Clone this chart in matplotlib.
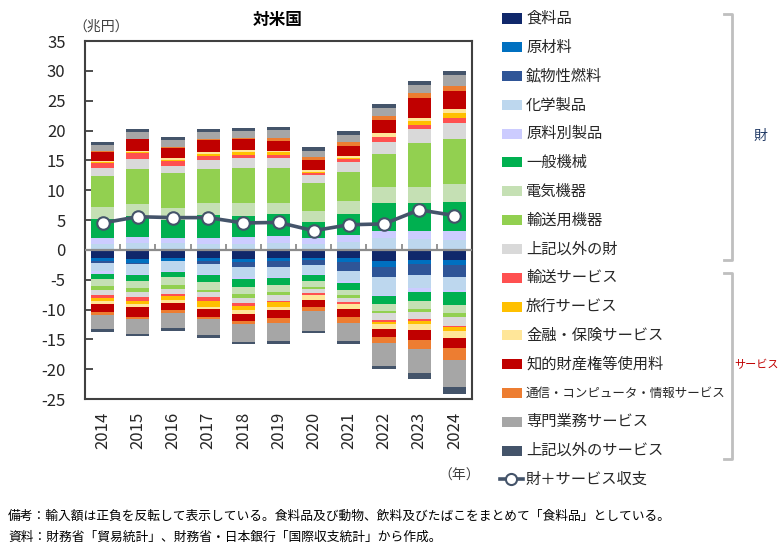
import matplotlib
matplotlib.use('Agg')
import matplotlib.pyplot as plt
import numpy as np
from matplotlib.patches import Rectangle
from matplotlib.lines import Line2D

plt.rcParams['font.family'] = ['Noto Sans CJK JP', 'DejaVu Sans']

years = ['2014', '2015', '2016', '2017', '2018', '2019', '2020', '2021', '2022', '2023', '2024']

categories = ['食料品', '原材料', '鉱物性燃料', '化学製品', '原料別製品', '一般機械', '電気機器',
              '輸送用機器', '上記以外の財', '輸送サービス', '旅行サービス', '金融・保険サービス',
              '知的財産権等使用料', '通信・コンピュータ・情報サービス', '専門業務サービス', '上記以外のサービス']
colors = ['#10286B', '#0070C0', '#2F5597', '#BDD7EE', '#CCCCFF', '#00B050', '#C5E0B4',
          '#92D050', '#D9D9D9', '#FF5050', '#FFC000', '#FFE699', '#C00000', '#ED7D31',
          '#A6A6A6', '#44546A']
line_label = '財＋サービス収支'

# Exports (兆円, positive)
exp_food  = [0.10, 0.10, 0.10, 0.10, 0.10, 0.10, 0.10, 0.10, 0.10, 0.10, 0.10]
exp_raw   = [0.02, 0.02, 0.02, 0.02, 0.02, 0.02, 0.02, 0.02, 0.02, 0.02, 0.02]
exp_fuel  = [0.02, 0.02, 0.02, 0.02, 0.02, 0.02, 0.02, 0.02, 0.02, 0.02, 0.02]
exp_chem  = [0.86, 0.96, 0.98, 0.86, 0.86, 0.98, 0.86, 1.25, 1.82, 1.65, 1.54]
exp_mfg   = [0.95, 1.00, 0.84, 0.96, 1.23, 1.23, 0.96, 1.12, 1.27, 1.39, 1.55]
exp_gm    = [3.15, 3.50, 3.04, 3.90, 3.52, 3.63, 2.78, 3.52, 4.69, 4.74, 4.86]
exp_elec  = [2.00, 2.10, 2.00, 1.96, 2.07, 1.95, 1.84, 2.23, 2.58, 2.68, 2.97]
exp_trans = [5.25, 5.90, 5.80, 5.75, 5.97, 5.75, 4.59, 4.86, 5.58, 7.27, 7.54]
exp_othg  = [1.33, 1.64, 1.27, 1.50, 1.55, 1.67, 1.39, 1.68, 2.06, 2.40, 2.72]
exp_tsvc  = [0.84, 0.96, 0.78, 0.72, 0.55, 0.56, 0.39, 0.39, 0.73, 0.67, 0.74]
exp_trav  = [0.15, 0.20, 0.25, 0.25, 0.45, 0.45, 0.05, 0.20, 0.10, 0.72, 0.94]
exp_fin   = [0.18, 0.23, 0.30, 0.30, 0.40, 0.22, 0.40, 0.36, 0.57, 0.50, 0.57]
exp_ip    = [1.62, 1.87, 1.74, 2.07, 1.85, 1.73, 1.68, 1.72, 2.24, 3.35, 3.06]
exp_tel   = [0.10, 0.10, 0.10, 0.10, 0.12, 0.39, 0.55, 0.67, 0.72, 0.84, 0.89]
exp_prof  = [1.00, 1.10, 1.10, 1.24, 1.21, 1.40, 1.01, 1.17, 1.23, 1.29, 1.79]
exp_oths  = [0.50, 0.50, 0.50, 0.50, 0.56, 0.45, 0.56, 0.67, 0.73, 0.72, 0.67]

# Imports (兆円, magnitude; drawn as negative)
imp_food  = [1.40, 1.50, 1.40, 1.40, 1.50, 1.40, 1.30, 1.40, 1.85, 1.70, 1.70]
imp_raw   = [0.55, 0.70, 0.45, 0.55, 0.60, 0.55, 0.40, 0.70, 0.95, 0.65, 0.90]
imp_fuel  = [0.25, 0.10, 0.10, 0.45, 0.85, 1.00, 0.80, 1.40, 1.80, 1.85, 1.90]
imp_chem  = [1.40, 1.80, 1.55, 1.70, 1.65, 1.65, 1.60, 1.70, 2.95, 2.20, 2.20]
imp_mfg   = [0.40, 0.10, 0.15, 0.20, 0.25, 0.20, 0.20, 0.40, 0.25, 0.60, 0.45]
imp_gm    = [0.90, 1.00, 0.97, 1.10, 1.44, 1.10, 0.90, 1.10, 1.30, 1.50, 2.05]
imp_elec  = [1.10, 1.20, 1.30, 1.30, 1.10, 1.10, 1.10, 0.95, 1.20, 1.40, 1.40]
imp_trans = [0.70, 0.60, 0.60, 0.30, 0.60, 0.65, 0.30, 0.35, 0.30, 0.55, 0.70]
imp_othg  = [0.80, 0.90, 0.80, 0.90, 0.90, 0.85, 0.70, 0.75, 1.10, 1.10, 1.40]
imp_tsvc  = [0.60, 0.75, 0.50, 0.75, 0.60, 0.25, 0.20, 0.25, 0.40, 0.35, 0.30]
imp_trav  = [0.55, 0.45, 0.60, 0.85, 0.55, 0.75, 0.05, 0.05, 0.30, 0.50, 0.60]
imp_fin   = [0.45, 0.55, 0.50, 0.40, 0.65, 0.65, 0.85, 0.85, 0.80, 1.10, 1.10]
imp_ip    = [1.40, 1.55, 1.15, 1.30, 1.20, 1.30, 1.20, 1.40, 1.40, 1.60, 1.80]
imp_tel   = [0.40, 0.35, 0.45, 0.35, 0.50, 0.85, 0.70, 1.00, 1.00, 1.50, 2.00]
imp_prof  = [2.40, 2.55, 2.60, 2.80, 3.00, 2.95, 3.25, 2.90, 3.80, 4.05, 4.55]
imp_oths  = [0.40, 0.40, 0.50, 0.45, 0.40, 0.50, 0.40, 0.50, 0.50, 1.00, 1.05]

balance = [4.5, 5.55, 5.4, 5.4, 4.5, 4.6, 3.2, 4.2, 4.35, 6.7, 5.75]

yticks = [-25, -20, -15, -10, -5, 0, 5, 10, 15, 20, 25, 30, 35]

exports = [exp_food, exp_raw, exp_fuel, exp_chem, exp_mfg, exp_gm, exp_elec, exp_trans,
           exp_othg, exp_tsvc, exp_trav, exp_fin, exp_ip, exp_tel, exp_prof, exp_oths]
imports = [imp_food, imp_raw, imp_fuel, imp_chem, imp_mfg, imp_gm, imp_elec, imp_trans,
           imp_othg, imp_tsvc, imp_trav, imp_fin, imp_ip, imp_tel, imp_prof, imp_oths]

W, H = 782, 549
fig = plt.figure(figsize=(W / 100, H / 100), dpi=100)
ax = fig.add_axes([85 / W, 1 - 399 / H, (472 - 85) / W, (399 - 41) / H])

x = np.arange(len(years))
bw = 0.66
bot = np.zeros(len(years))
for vals, col in zip(exports, colors):
    v = np.array(vals)
    ax.bar(x, v, bw, bottom=bot, color=col, linewidth=0, zorder=2)
    bot += v
nbot = np.zeros(len(years))
for vals, col in zip(imports, colors):
    v = -np.array(vals)
    ax.bar(x, v, bw, bottom=nbot, color=col, linewidth=0, zorder=2)
    nbot += v

ax.axhline(0, color='#8C8C8C', lw=1.6, zorder=3)
ax.vlines(x[:-1] + 0.5, 0, 1.0, color='#8C8C8C', lw=1.3, zorder=3)

ax.plot(x, balance, color='#44546A', lw=2.6, marker='o', ms=9, mfc='white',
        mec='#44546A', mew=1.5, zorder=5)

ax.set_xlim(-0.5, len(years) - 0.5)
ax.set_ylim(-25, 35)
ax.set_yticks(yticks)
ax.set_yticklabels([str(t) for t in yticks], fontsize=12, color='#262626')
ax.set_xticks(x)
ax.set_xticklabels(years, rotation=90, fontsize=12, color='#262626')
ax.tick_params(axis='y', direction='in', length=6, width=1.3, color='#404040', pad=14)
ax.tick_params(axis='x', length=0, pad=9)
for s in ax.spines.values():
    s.set_color('#404040')
    s.set_linewidth(1.5)

def fx(px):
    return px / W

def fy(py):
    return 1 - py / H

fig.text(fx(278), fy(20), '対米国', ha='center', va='center', fontsize=12, fontweight='bold')
fig.text(fx(101), fy(27), '（兆円）', ha='center', va='center', fontsize=10, color='#404040')
fig.text(fx(480), fy(476), '（年）', ha='right', va='center', fontsize=10, color='#404040')

fig.text(fx(8), fy(516), '備考：輸入額は正負を反転して表示している。食料品及び動物、飲料及びたばこをまとめて「食料品」としている。',
         ha='left', va='center', fontsize=9.2)
fig.text(fx(8), fy(537), '資料：財務省「貿易統計」、財務省・日本銀行「国際収支統計」から作成。',
         ha='left', va='center', fontsize=9.2)

# Legend
row0, step = 18.5, 28.8
for i, (lab, col) in enumerate(zip(categories, colors)):
    yc = row0 + step * i
    fig.add_artist(Rectangle((fx(502), fy(yc + 5)), 20 / W, 10 / H, transform=fig.transFigure,
                             facecolor=col, edgecolor='none'))
    fs = 9 if len(lab) > 12 else 11
    fig.text(fx(526), fy(yc), lab, ha='left', va='center', fontsize=fs, color='#262626')
yl = row0 + step * len(categories)
fig.add_artist(Line2D([fx(500), fx(523)], [fy(yl), fy(yl)], transform=fig.transFigure,
                      color='#44546A', lw=2.6))
fig.add_artist(Line2D([fx(511.5)], [fy(yl)], transform=fig.transFigure, marker='o', ms=8,
                      mfc='white', mec='#44546A', mew=1.5, ls='none'))
fig.text(fx(526), fy(yl), line_label, ha='left', va='center', fontsize=11, color='#262626')

# Brackets
def bracket(y0, y1):
    fig.add_artist(Line2D([fx(724), fx(732), fx(732), fx(724)], [fy(y0), fy(y0), fy(y1), fy(y1)],
                          transform=fig.transFigure, color='#BFBFBF', lw=2))

bracket(14, 260)
bracket(273, 459)
fig.text(fx(760), fy(136), '財', ha='center', va='center', fontsize=10, color='#1F3864')
fig.text(fx(757), fy(365), 'サービス', ha='center', va='center', fontsize=8, color='#C00000')

fig.savefig('out.png', dpi=100)
